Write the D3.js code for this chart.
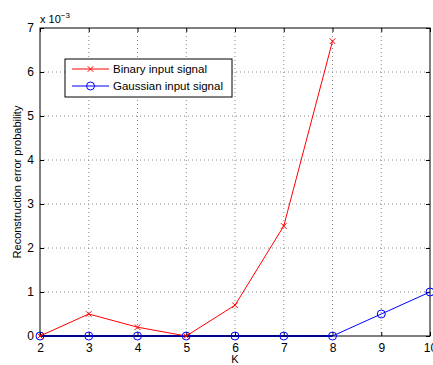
<!DOCTYPE html>
<html>
<head>
<meta charset="utf-8">
<script src="https://cdn.jsdelivr.net/npm/d3@7"></script>
<style>
  body { margin: 0; background: #fff; }
  text { font-family: "Liberation Sans", Arial, sans-serif; }
</style>
</head>
<body>
<svg id="chart" width="433" height="365"></svg>
<script>
// data (values in units of 1e-3)
let kValues = [2, 3, 4, 5, 6, 7, 8, 9, 10];
let binaryK = [2, 3, 4, 5, 6, 7, 8];
let binaryVals = [0, 0.5, 0.2, 0, 0.7, 2.5, 6.7];
let gaussK = [2, 3, 4, 5, 6, 7, 8, 9, 10];
let gaussVals = [0, 0, 0, 0, 0, 0, 0, 0.5, 1.0];
let yTicks = [0, 1, 2, 3, 4, 5, 6, 7];
let seriesNames = ["Binary input signal", "Gaussian input signal"];

let svg = d3.select("#chart"),
    margin = {top: 28, right: 3, bottom: 29, left: 40},
    width = svg.attr("width") - margin.left - margin.right,
    height = svg.attr("height") - margin.top - margin.bottom,
    g = svg.append("g").attr("transform", "translate(" + margin.left + "," + margin.top + ")");

let x = d3.scaleLinear().domain([2, 10]).range([0, width]),
    y = d3.scaleLinear().domain([0, 7]).range([height, 0]);

//grid
g.selectAll(".vgrid").data(kValues.slice(1, -1)).enter().append("line")
    .attr("x1", d => x(d)).attr("x2", d => x(d))
    .attr("y1", 0).attr("y2", height)
    .attr("stroke", "#888").attr("stroke-width", 1).attr("stroke-dasharray", "1,3");
g.selectAll(".hgrid").data(yTicks.slice(1, -1)).enter().append("line")
    .attr("y1", d => y(d)).attr("y2", d => y(d))
    .attr("x1", 0).attr("x2", width)
    .attr("stroke", "#888").attr("stroke-width", 1).attr("stroke-dasharray", "1,3");

//box
g.append("rect").attr("width", width).attr("height", height)
    .attr("fill", "none").attr("stroke", "#000").attr("stroke-width", 1);

//axes with inward ticks
let xAxis = g.append("g").attr("transform", "translate(0," + height + ")")
    .call(d3.axisBottom(x).tickValues(kValues).tickSize(-4).tickPadding(7).tickFormat(d3.format("d")));
let xTop = g.append("g")
    .call(d3.axisTop(x).tickValues(kValues).tickSize(-4).tickFormat(""));
let yAxis = g.append("g")
    .call(d3.axisLeft(y).tickValues(yTicks).tickSize(-4).tickPadding(6).tickFormat(d3.format("d")));
let yRight = g.append("g").attr("transform", "translate(" + width + ",0)")
    .call(d3.axisRight(y).tickValues(yTicks).tickSize(-4).tickFormat(""));
[xAxis, xTop, yAxis, yRight].forEach(a => {
    a.select(".domain").remove();
    a.selectAll("line").attr("stroke", "#000");
    a.selectAll("text").style("font-size", "12px").attr("fill", "#000");
});

//lines
let line = d3.line().x(d => x(d[0])).y(d => y(d[1]));
let binData = binaryK.map((k, i) => [k, binaryVals[i]]);
let gauData = gaussK.map((k, i) => [k, gaussVals[i]]);

g.append("path").datum(gauData).attr("d", line)
    .attr("fill", "none").attr("stroke", "#0000ff").attr("stroke-width", 1);
g.append("line").attr("x1", 0).attr("x2", x(8)).attr("y1", height).attr("y2", height)
    .attr("stroke", "#00008b").attr("stroke-width", 2);
g.append("path").datum(binData).attr("d", line)
    .attr("fill", "none").attr("stroke", "#ff0000").attr("stroke-width", 1);

g.selectAll(".circ").data(gauData).enter().append("circle")
    .attr("cx", d => x(d[0])).attr("cy", d => y(d[1])).attr("r", 4)
    .attr("fill", "none").attr("stroke", "#0000ff").attr("stroke-width", 1);

let cross = d3.symbol().type(d3.symbolX).size(22);
g.selectAll(".cross").data(binData).enter().append("path")
    .attr("d", cross)
    .attr("transform", d => "translate(" + x(d[0]) + "," + y(d[1]) + ")")
    .attr("fill", "none").attr("stroke", "#ff0000").attr("stroke-width", 1);

//legend
let lg = svg.append("g").attr("transform", "translate(65,59)");
lg.append("rect").attr("width", 167).attr("height", 38)
    .attr("fill", "#fff").attr("stroke", "#000").attr("stroke-width", 1);
let colors = ["#ff0000", "#0000ff"];
seriesNames.forEach((name, i) => {
    let yy = 10 + i * 17;
    lg.append("line").attr("x1", 7).attr("x2", 44).attr("y1", yy).attr("y2", yy)
        .attr("stroke", colors[i]).attr("stroke-width", 1);
    if (i === 0) {
        lg.append("path").attr("d", cross).attr("transform", "translate(25.5," + yy + ")")
            .attr("fill", "none").attr("stroke", colors[i]);
    } else {
        lg.append("circle").attr("cx", 25.5).attr("cy", yy).attr("r", 4)
            .attr("fill", "none").attr("stroke", colors[i]);
    }
    lg.append("text").attr("x", 48).attr("y", yy + 4)
        .style("font-size", "11.5px").text(name);
});

//labels
svg.append("text").attr("x", margin.left + width / 2).attr("y", 363)
    .attr("text-anchor", "middle").style("font-size", "11px").text("K");
svg.append("text").attr("transform", "translate(21," + (margin.top + height / 2) + ") rotate(-90)")
    .attr("text-anchor", "middle").style("font-size", "11px").text("Reconstruction error probability");
let mult = svg.append("text").attr("x", 40).attr("y", 23).style("font-size", "11px");
mult.append("tspan").text("x 10");
mult.append("tspan").attr("dy", -5).style("font-size", "8px").text("−3");
</script>
</body>
</html>
